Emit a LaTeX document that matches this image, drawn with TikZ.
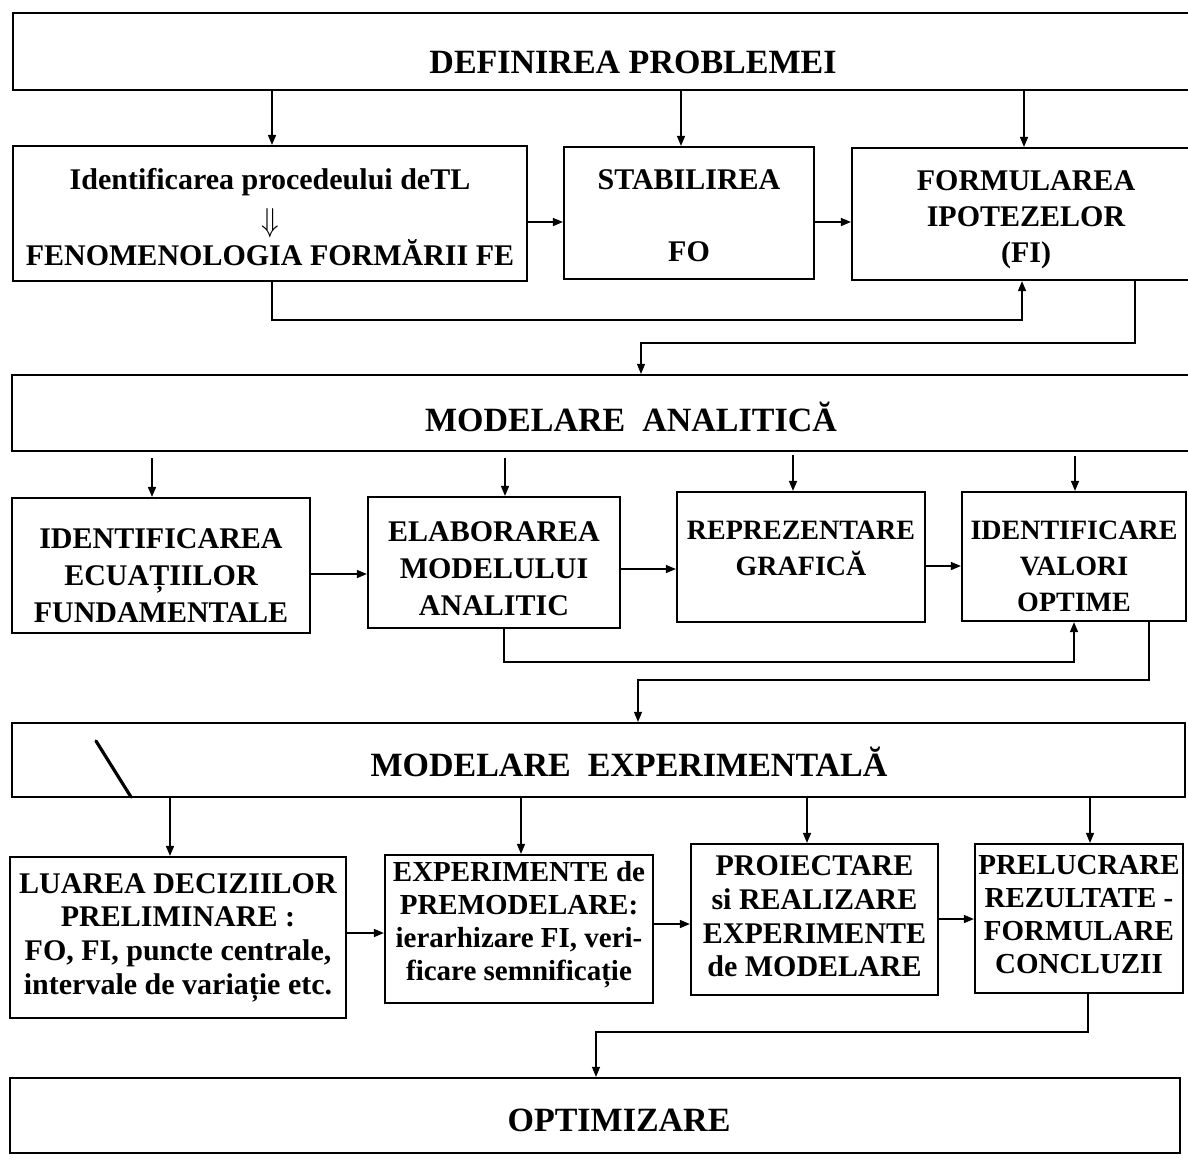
\documentclass[tikz,border=0pt]{standalone}
\usepackage{fontspec}
\usepackage{graphicx}
\setmainfont{Liberation Serif}
\usetikzlibrary{arrows.meta}
\tikzset{
  x=0.5pt, y=-0.5pt,
  frame/.style={draw, line width=1.1pt, inner sep=0pt},
  boxtext/.style={inner sep=0pt, align=center,
    font=\bfseries\fontsize{15pt}{18pt}\selectfont},
  rowtwo/.style={font=\bfseries\fontsize{15pt}{18.5pt}\selectfont},
  rowtwos/.style={font=\bfseries\fontsize{14pt}{18pt}\selectfont},
  rowthree/.style={font=\bfseries\fontsize{15pt}{16.8pt}\selectfont},
  rowthrees/.style={font=\bfseries\fontsize{14.5pt}{16.5pt}\selectfont},
  htext/.style={inner sep=0pt, font=\bfseries\fontsize{17pt}{20pt}\selectfont},
  arr/.style={line width=0.75pt, -{Triangle[length=5pt,width=4pt]}},
  thinarr/.style={line width=0.6pt, -{Triangle[length=5pt,width=4pt]}},
}
% \bx[style]{name}{x1}{y1}{x2}{y2}{text dy}{text}
\newcommand\bx[8][]{%
  \node[frame,minimum width={(#5-#3)*0.5pt},minimum height={(#6-#4)*0.5pt}] (#2) at ({(#3+#5)/2},{(#4+#6)/2}) {};
  \node[boxtext,#1] (#2t) at ({(#3+#5)/2},{(#4+#6)/2+#7}) {#8};}
\begin{document}
\begin{tikzpicture}
\useasboundingbox (0,0) rectangle (1188,1169);
\fill[white] (0,0) rectangle (1188,1169);
\clip (0,0) rectangle (1188,1169);

% level 1
\node[frame, minimum width={(1200-13)*0.5pt}, minimum height={(90-13)*0.5pt}] (P1) at ({(13+1200)/2},{(13+90)/2}) {};
\node[htext] (P1t) at (633,62) {DEFINIREA PROBLEMEI};
\bx{A}{13}{146}{527}{281}{4}{Identificarea procedeului deTL\\[3pt]\scalebox{1}[1.15]{$\Downarrow$}\\[-1pt]FENOMENOLOGIA FORMĂRII FE}
\bx{B}{564}{147}{814}{279}{3}{STABILIREA\\\mbox{}\\FO}
\bx{C}{852}{148}{1200}{280}{6}{FORMULAREA\\IPOTEZELOR\\(FI)}

\draw[arr] (P1.south -| 272,0) -- (A.north -| 272,0);
\draw[arr] (P1.south -| 681,0) -- (B.north -| 681,0);
\draw[arr] (P1.south -| 1024,0) -- (C.north -| 1024,0);
\draw[arr] (A.east |- 0,222) -- (B.west |- 0,222);
\draw[arr] (B.east |- 0,222) -- (C.west |- 0,222);
\draw[arr] (A.south -| 272,0) |- (1022,320) -- (C.south -| 1022,0);

% level 2
\node[frame, minimum width={(1200-12)*0.5pt}, minimum height={(451-375)*0.5pt}] (MA) at ({(12+1200)/2},{(375+451)/2}) {};
\node[htext] (MAt) at (631,417) {MODELARE\ \ ANALITICĂ};
\draw[thinarr] (C.south -| 1135,0) |- (641,343) -- (MA.north -| 641,0);

\bx[rowtwo]{D}{12}{498}{310}{633}{10}{IDENTIFICAREA\\ECUAȚIILOR\\FUNDAMENTALE}
\bx[rowtwo]{E}{368}{497}{620}{628}{6}{ELABORAREA\\MODELULUI\\ANALITIC}
\bx[rowtwos]{F}{677}{492}{925}{622}{9}{REPREZENTARE\\GRAFICĂ\\\mbox{}}
\bx[rowtwos]{G}{962}{492}{1186}{621}{10}{IDENTIFICARE\\VALORI\\OPTIME}

\draw[arr, shorten <=3pt] (MA.south -| 152,0) -- (D.north -| 152,0);
\draw[arr, shorten <=3pt] (MA.south -| 505,0) -- (E.north -| 505,0);
\draw[arr, shorten <=1.5pt] (MA.south -| 793,0) -- (F.north -| 793,0);
\draw[arr, shorten <=2pt] (MA.south -| 1075,0) -- (G.north -| 1075,0);
\draw[arr] (D.east |- 0,574) -- (E.west |- 0,574);
\draw[arr] (E.east |- 0,569) -- (F.west |- 0,569);
\draw[arr] (F.east |- 0,566) -- (G.west |- 0,566);
\draw[arr] (E.south -| 504,0) |- (1074,662) -- (G.south -| 1074,0);

% level 3
\node[frame, minimum width={(1185-12)*0.5pt}, minimum height={(797-723)*0.5pt}] (ME) at ({(12+1185)/2},{(723+797)/2}) {};
\node[htext] (MEt) at (629,762) {MODELARE\ \ EXPERIMENTALĂ};
\draw[thinarr] (G.south -| 1149,0) |- (638,680) -- (ME.north -| 638,0);
\draw[line width=1.6pt, line cap=round] (96,741) -- (131,797);

\bx[rowthree]{H}{10}{857}{346}{1018}{0}{LUAREA DECIZIILOR\\PRELIMINARE :\\FO, FI, puncte centrale,\\intervale de variație etc.}
\bx[rowthrees]{I}{385}{855}{653}{1003}{-4}{EXPERIMENTE de\\PREMODELARE:\\ierarhizare FI, veri-\\ficare semnificație}
\bx[rowthree]{J}{691}{844}{938}{995}{-3}{PROIECTARE\\si REALIZARE\\EXPERIMENTE\\de MODELARE}
\bx[rowthrees]{K}{975}{844}{1183}{993}{-4}{PRELUCRARE\\REZULTATE -\\FORMULARE\\CONCLUZII}

\draw[arr] (ME.south -| 170,0) -- (H.north -| 170,0);
\draw[arr] (ME.south -| 521,0) -- (I.north -| 521,0);
\draw[arr] (ME.south -| 807,0) -- (J.north -| 807,0);
\draw[arr] (ME.south -| 1090,0) -- (K.north -| 1090,0);
\draw[arr] (H.east |- 0,933) -- (I.west |- 0,933);
\draw[arr] (I.east |- 0,924) -- (J.west |- 0,924);
\draw[arr] (J.east |- 0,919) -- (K.west |- 0,919);

% level 4
\node[frame, minimum width={(1180-10)*0.5pt}, minimum height={(1153-1078)*0.5pt}] (OPT) at ({(10+1180)/2},{(1078+1153)/2}) {};
\node[htext] (OPTt) at (619,1120) {OPTIMIZARE};
\draw[thinarr] (K.south -| 1088,0) |- (596,1032) -- (OPT.north -| 596,0);
\end{tikzpicture}
\end{document}
